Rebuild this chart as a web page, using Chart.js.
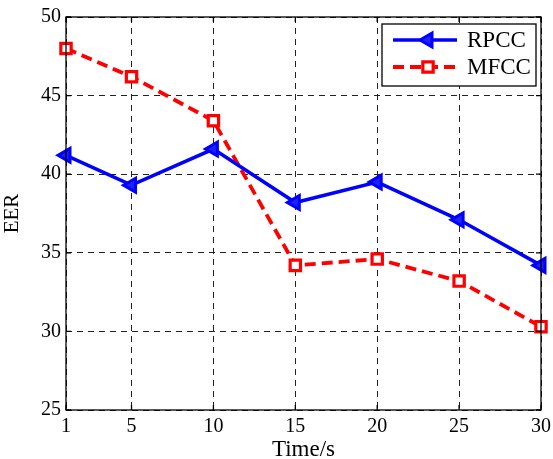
<!DOCTYPE html>
<html><head><meta charset="utf-8">
<script src="https://cdn.jsdelivr.net/npm/chart.js@4"></script>
<style>html,body{margin:0;padding:0;background:#fff}#wrap{width:553px;height:459px}</style>
</head><body><div id="wrap"><canvas id="c" width="553" height="459"></canvas></div>
<script>
const times = [1, 5, 10, 15, 20, 25, 30];
const rpcc = [41.2, 39.3, 41.6, 38.2, 39.5, 37.1, 34.2];
const mfcc = [48.0, 46.2, 43.4, 34.2, 34.6, 33.2, 30.3];
const xTicks = [1, 5, 10, 15, 20, 25, 30];
const yTicks = [25, 30, 35, 40, 45, 50];
const FONT = "'Liberation Serif', 'Times New Roman', serif";

const frame = {
  id: 'frame',
  afterDraw(chart) {
    const {ctx, chartArea: a, scales} = chart;
    ctx.save();
    ctx.strokeStyle = '#000'; ctx.lineWidth = 1.3; ctx.setLineDash([]);
    ctx.strokeRect(a.left, a.top, a.right - a.left, a.bottom - a.top);
    const L = 5;
    ctx.beginPath();
    xTicks.forEach(v => { const x = scales.x.getPixelForValue(v);
      ctx.moveTo(x, a.bottom); ctx.lineTo(x, a.bottom - L);
      ctx.moveTo(x, a.top); ctx.lineTo(x, a.top + L); });
    yTicks.forEach(v => { const y = scales.y.getPixelForValue(v);
      ctx.moveTo(a.left, y); ctx.lineTo(a.left + L, y);
      ctx.moveTo(a.right, y); ctx.lineTo(a.right - L, y); });
    ctx.stroke();
    // legend
    const bx = 382, by = 24, bw = 154, bh = 62;
    ctx.fillStyle = '#fff'; ctx.fillRect(bx, by, bw, bh);
    ctx.lineWidth = 1.3;
    ctx.strokeRect(bx, by, bw, bh);
    chart.data.datasets.forEach((ds, i) => {
      const y = by + 16 + i * 27;
      ctx.strokeStyle = ds.borderColor; ctx.lineWidth = ds.borderWidth;
      ctx.setLineDash(ds.borderDash || []);
      ctx.beginPath(); ctx.moveTo(bx + 11, y); ctx.lineTo(bx + 75, y); ctx.stroke();
      ctx.setLineDash([]);
      ctx.fillStyle = ds.pointBackgroundColor; ctx.strokeStyle = ds.pointBorderColor;
      ctx.lineWidth = ds.pointBorderWidth;
      Chart.helpers.drawPoint(ctx, {pointStyle: ds.pointStyle, radius: ds.pointRadius,
        rotation: ds.pointRotation || 0, borderWidth: ds.pointBorderWidth}, bx + 46, y);
      ctx.fillStyle = '#000'; ctx.font = '23px ' + FONT; ctx.textBaseline = 'middle';
      ctx.fillText(ds.label, bx + 85, y + 1);
    });
    ctx.restore();
  }
};

new Chart(document.getElementById('c'), {
  type: 'line',
  data: {
    datasets: [
      { label: 'RPCC', data: times.map((t, i) => ({x: t, y: rpcc[i]})),
        borderColor: '#0000ff', borderWidth: 3.5, pointStyle: 'triangle', pointRotation: -90,
        pointRadius: 8, pointBorderWidth: 3, pointBackgroundColor: '#2020ff', pointBorderColor: '#0000ff',
        tension: 0, clip: false },
      { label: 'MFCC', data: times.map((t, i) => ({x: t, y: mfcc[i]})),
        borderColor: '#ff0000', borderWidth: 3.8, borderDash: [11, 6], pointStyle: 'rect',
        pointRadius: 7.3, pointBorderWidth: 3.2, pointBackgroundColor: '#ffffff', pointBorderColor: '#ff0000',
        tension: 0, clip: false }
    ]
  },
  options: {
    responsive: false, animation: false,
    layout: { padding: { left: 0, right: 12, top: 15, bottom: 0 } },
    plugins: { legend: { display: false }, tooltip: { enabled: false } },
    scales: {
      x: { type: 'linear', min: 1, max: 30,
        afterBuildTicks: s => { s.ticks = xTicks.map(v => ({value: v})); },
        afterFit: s => { s.height = 49; s.paddingRight = 0; s.paddingLeft = 0; },
        grid: { color: '#222', drawTicks: false, lineWidth: 1 },
        border: { display: false, dash: [6, 5] },
        ticks: { color: '#000', font: { family: FONT, size: 20 }, padding: 5, maxRotation: 0 },
        title: { display: true, text: 'Time/s', color: '#000', font: { family: FONT, size: 23 }, padding: { top: 0, bottom: -5 } }
      },
      y: { min: 25, max: 50,
        afterBuildTicks: s => { s.ticks = yTicks.map(v => ({value: v})); },
        afterFit: s => { s.width = 66; },
        grid: { color: '#222', drawTicks: false, lineWidth: 1 },
        border: { display: false, dash: [6, 5] },
        ticks: { color: '#000', font: { family: FONT, size: 20 }, padding: 5 },
        title: { display: true, text: 'EER', color: '#000', font: { family: FONT, size: 21 }, padding: { top: 0, bottom: 4 } }
      }
    }
  },
  plugins: [frame]
});
</script></body></html>
